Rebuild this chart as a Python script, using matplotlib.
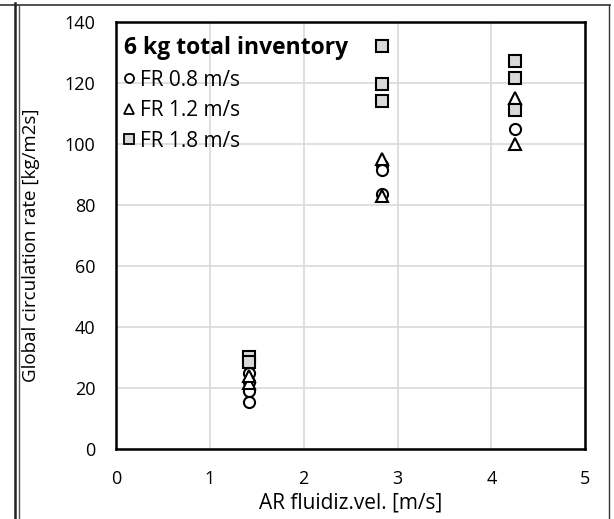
import matplotlib
matplotlib.use("Agg")
import matplotlib.pyplot as plt
from matplotlib.lines import Line2D

plt.rcParams['font.family'] = ['Open Sans', 'DejaVu Sans']

# Data
x_fr08 = [1.42, 1.42, 1.42, 1.42, 2.83, 2.83, 2.83, 4.25]
y_fr08 = [15.5, 19, 22, 25, 93, 91.5, 83.5, 105]
x_fr12 = [1.42, 1.42, 2.83, 2.83, 4.25, 4.25]
y_fr12 = [21.5, 24, 95, 83, 115, 100]
x_fr18 = [1.42, 1.42, 2.83, 2.83, 2.83, 4.25, 4.25, 4.25]
y_fr18 = [30, 28.5, 132, 119.5, 114, 127, 121.5, 111]

labels = ["FR 0.8 m/s", "FR 1.2 m/s", "FR 1.8 m/s"]
legend_title = "6 kg total inventory"
xlabel = "AR fluidiz.vel. [m/s]"
ylabel = "Global circulation rate [kg/m2s]"
xticks = [0, 1, 2, 3, 4, 5]
yticks = [0, 20, 40, 60, 80, 100, 120, 140]

fig = plt.figure(figsize=(6.14, 5.19), dpi=100)
ax = fig.add_axes([0.189, 0.135, 0.764, 0.823])

ms = 8
ax.plot(x_fr08, y_fr08, linestyle='none', marker='o', ms=ms, mfc='white', mec='black', mew=1.5, label=labels[0], zorder=3)
ax.plot(x_fr12, y_fr12, linestyle='none', marker='^', ms=ms, mfc='white', mec='black', mew=1.5, label=labels[1], zorder=3)
ax.plot(x_fr18, y_fr18, linestyle='none', marker='s', ms=ms, mfc='#d9d9d9', mec='black', mew=1.5, label=labels[2], zorder=3)

ax.set_xlim(0, 5)
ax.set_ylim(0, 140)
ax.set_xticks(xticks)
ax.set_yticks(yticks)
ax.tick_params(axis='both', length=0, labelsize=13, colors='black')
ax.tick_params(axis='y', pad=15)
ax.tick_params(axis='x', pad=15)
ax.grid(True, color='#d9d9d9', linewidth=1.2)
ax.set_axisbelow(True)
for s in ax.spines.values():
    s.set_linewidth(1.8)
    s.set_color('black')

ax.set_xlabel(xlabel, fontsize=15)
ax.set_ylabel(ylabel, fontsize=13.5)
ax.xaxis.set_label_coords(0.5, -0.103)
ax.yaxis.set_label_coords(-0.162, 0.478)

handles = [
    Line2D([], [], linestyle='none', marker='o', ms=6.5, mfc='white', mec='black', mew=1.3),
    Line2D([], [], linestyle='none', marker='^', ms=6.5, mfc='white', mec='black', mew=1.3),
    Line2D([], [], linestyle='none', marker='s', ms=6.5, mfc='#d9d9d9', mec='black', mew=1.3),
]
leg = ax.legend(handles, labels, title=legend_title, loc='upper left', frameon=False,
                fontsize=15, title_fontproperties={'weight': 'bold', 'size': 16.5},
                handlelength=0.5, handletextpad=0.3, borderaxespad=0.4,
                labelspacing=0.45, borderpad=0.3, bbox_to_anchor=(-0.015, 1.0))
leg._legend_box.align = 'left'

# outer frame lines
W, H = 614, 519
fig.add_artist(Line2D([0 / W, 610 / W], [1 - 5 / H, 1 - 5 / H], color='#333333', lw=1.2, transform=fig.transFigure))
fig.add_artist(Line2D([15 / W, 15 / W], [1 - 3 / H, 0], color='#222222', lw=1.8, transform=fig.transFigure))
fig.add_artist(Line2D([19 / W, 19 / W], [1 - 5 / H, 0], color='#555555', lw=1.0, transform=fig.transFigure))
fig.add_artist(Line2D([609 / W, 609 / W], [1 - 5 / H, 0], color='#333333', lw=1.0, transform=fig.transFigure))

fig.savefig("out.png", dpi=100)
